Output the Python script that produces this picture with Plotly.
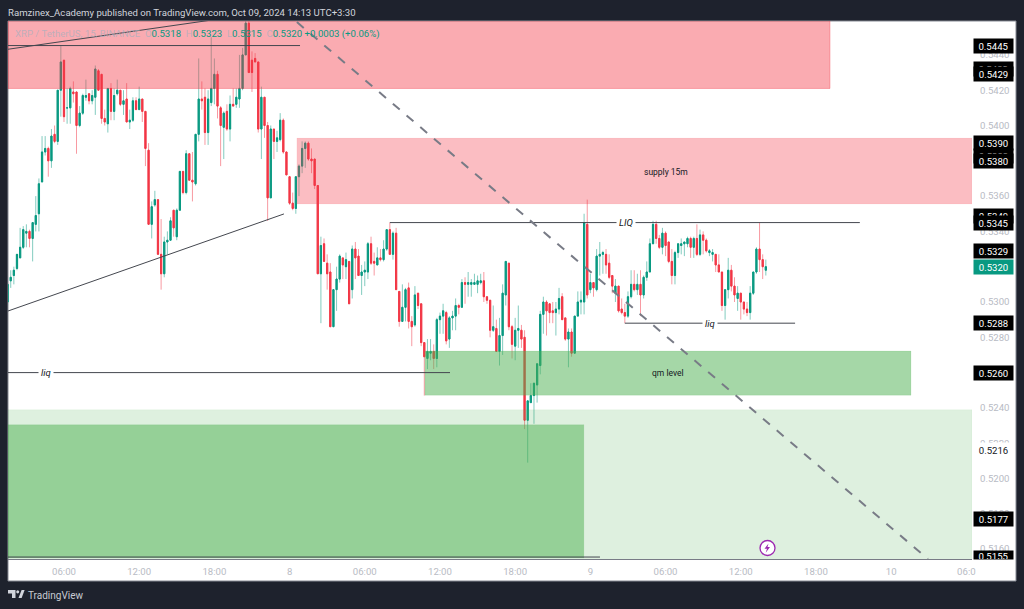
import pandas as pd
import plotly.graph_objects as go

FONT = "Roboto"
BG = "#1e222d"
UP = "#089981"
DOWN = "#f23645"

# XRP / TetherUS 15m bars, prices in units of 0.0001
open_e4 = [
    5300,5312,5315,5319,5325,5331,5339,5340,5336,5344, 5350,5368,5385,5387,5380,5395,5391,5420,5437,5410,
    5410,5419,5419,5400,5407,5416,5418,5414,5416,5431, 5429,5404,5401,5421,5408,5418,5420,5412,5415,5402,
    5403,5414,5409,5415,5408,5386,5344,5355,5358,5327, 5316,5334,5335,5352,5337,5352,5374,5362,5384,5369,
    5367,5395,5415,5416,5396,5413,5421,5429,5410,5399, 5408,5398,5412,5412,5415,5421,5440,5458,5437,5438,
    5436,5398,5416,5400,5359,5398,5391,5392,5403,5385, 5371,5356,5353,5371,5377,5387,5390,5381,5381,5366,
    5316,5333,5322,5317,5286,5307,5313,5325,5320,5323, 5307,5330,5326,5315,5317,5317,5333,5323,5321,5325,
    5324,5330,5341,5327,5339,5306,5289,5297,5308,5289, 5287,5305,5299,5277,5268,5271,5272,5268,5290,5292,
    5294,5279,5291,5292,5298,5297,5311,5310,5310,5310, 5310,5311,5312,5303,5301,5284,5285,5272,5281,5304,
    5322,5286,5275,5284,5284,5280,5233,5243,5247,5253, 5264,5293,5300,5299,5295,5294,5296,5303,5291,5279,
    5283,5271,5292,5300,5300,5344,5307,5311,5307,5326, 5327,5327,5322,5315,5305,5309,5296,5294,5292,5303,
    5310,5307,5310,5304,5314,5317,5333,5344,5336,5331, 5339,5334,5323,5315,5328,5332,5333,5333,5336,5331,
    5336,5327,5338,5335,5328,5327,5327,5321,5317,5298, 5307,5318,5309,5302,5305,5300,5296,5294,5305,5317,
    5330,5324,5318,
]
high_e4 = [
    5310,5318,5320,5327,5342,5343,5344,5341,5345,5360, 5370,5394,5394,5388,5398,5400,5420,5445,5437,5421,
    5422,5425,5419,5411,5418,5426,5418,5420,5434,5432, 5429,5409,5421,5424,5421,5426,5420,5420,5424,5409,
    5416,5416,5422,5415,5408,5390,5357,5363,5358,5347, 5337,5340,5348,5352,5353,5374,5374,5386,5384,5385,
    5395,5438,5425,5421,5420,5450,5438,5431,5411,5408, 5412,5417,5421,5421,5440,5444,5460,5460,5442,5441,
    5436,5422,5416,5402,5400,5398,5397,5407,5404,5385, 5371,5362,5371,5378,5391,5391,5391,5387,5381,5366,
    5337,5336,5327,5322,5307,5320,5327,5325,5328,5323, 5332,5334,5330,5321,5323,5334,5337,5328,5331,5330,
    5335,5341,5345,5340,5342,5306,5310,5308,5311,5292, 5309,5305,5299,5277,5279,5279,5276,5291,5294,5299,
    5295,5292,5295,5302,5299,5313,5314,5317,5313,5316, 5315,5316,5317,5303,5301,5298,5290,5291,5310,5323,
    5322,5287,5291,5298,5287,5284,5244,5254,5254,5265, 5295,5303,5301,5299,5300,5300,5308,5305,5291,5285,
    5285,5292,5306,5306,5350,5358,5316,5311,5330,5334, 5329,5330,5327,5315,5313,5309,5302,5299,5306,5318,
    5318,5316,5318,5315,5323,5336,5346,5346,5338,5342, 5340,5334,5330,5329,5333,5336,5334,5337,5337,5337,
    5344,5341,5340,5336,5330,5330,5327,5327,5317,5307, 5325,5321,5314,5309,5305,5300,5300,5309,5317,5331,
    5345,5327,5324,
]
low_e4 = [
    5298,5308,5310,5318,5325,5330,5331,5331,5323,5340, 5340,5368,5383,5371,5376,5390,5389,5405,5402,5401,
    5401,5413,5384,5399,5406,5414,5412,5412,5406,5420, 5401,5400,5396,5403,5403,5417,5411,5406,5402,5398,
    5402,5409,5409,5402,5377,5344,5336,5354,5327,5307, 5314,5327,5335,5337,5335,5352,5361,5361,5369,5357,
    5366,5391,5409,5389,5389,5411,5412,5404,5377,5381, 5397,5391,5411,5410,5410,5420,5440,5430,5419,5436,
    5396,5381,5393,5346,5359,5381,5385,5391,5384,5372, 5355,5352,5350,5360,5373,5376,5380,5373,5364,5316,
    5288,5323,5307,5286,5286,5295,5311,5313,5313,5299, 5302,5313,5315,5304,5309,5313,5321,5315,5321,5323,
    5323,5329,5327,5324,5307,5286,5289,5289,5285,5275, 5286,5296,5275,5247,5262,5267,5262,5263,5282,5282,
    5276,5274,5284,5284,5293,5297,5299,5303,5303,5310, 5305,5310,5300,5299,5280,5283,5272,5264,5270,5298,
    5284,5268,5267,5274,5274,5228,5209,5243,5231,5243, 5259,5282,5281,5288,5288,5281,5293,5290,5278,5263,
    5269,5271,5292,5293,5293,5302,5305,5303,5306,5315, 5316,5316,5313,5305,5300,5294,5293,5288,5291,5302,
    5306,5304,5292,5302,5312,5317,5333,5333,5330,5327, 5326,5322,5310,5310,5325,5327,5326,5331,5325,5325,
    5326,5326,5327,5328,5326,5323,5317,5317,5295,5290, 5302,5306,5300,5295,5290,5293,5292,5290,5304,5316,
    5317,5313,5315,
]
close_e4 = [
    5310,5314,5318,5327,5331,5341,5340,5336,5345,5349, 5367,5385,5387,5380,5394,5391,5420,5436,5405,5410,
    5421,5418,5400,5407,5417,5417,5414,5417,5432,5420, 5404,5402,5421,5408,5417,5420,5412,5414,5402,5403,
    5414,5409,5415,5408,5387,5344,5354,5358,5327,5316, 5334,5335,5346,5342,5352,5374,5362,5384,5369,5368,
    5395,5415,5414,5396,5415,5421,5429,5411,5400,5407, 5398,5412,5411,5416,5421,5440,5458,5430,5430,5436,
    5398,5416,5400,5359,5398,5391,5393,5403,5385,5372, 5356,5353,5371,5377,5387,5390,5381,5380,5366,5316,
    5332,5323,5316,5286,5307,5313,5326,5321,5324,5299, 5330,5325,5315,5317,5318,5333,5322,5322,5325,5324,
    5330,5341,5327,5339,5307,5289,5297,5307,5289,5286, 5304,5298,5277,5269,5272,5272,5268,5290,5292,5295,
    5278,5291,5292,5298,5297,5311,5310,5311,5311,5311, 5312,5312,5303,5301,5284,5286,5272,5281,5305,5323,
    5286,5276,5284,5285,5279,5233,5244,5247,5254,5265, 5293,5300,5295,5294,5294,5296,5302,5290,5279,5283,
    5271,5292,5300,5301,5345,5304,5311,5308,5326,5327, 5328,5321,5314,5309,5309,5295,5294,5292,5303,5310,
    5307,5310,5304,5314,5317,5333,5344,5336,5331,5339, 5332,5323,5315,5328,5333,5333,5334,5336,5331,5336,
    5327,5338,5335,5329,5329,5328,5321,5317,5298,5307, 5318,5309,5304,5305,5300,5296,5294,5305,5317,5330,
    5324,5320,5320,
]
LAST_BAR = "2024-10-09 14:00"

time_tick_vals = ["2024-10-07 06:00", "2024-10-07 12:00", "2024-10-07 18:00", "2024-10-08 00:00",
                  "2024-10-08 06:00", "2024-10-08 12:00", "2024-10-08 18:00", "2024-10-09 00:00",
                  "2024-10-09 06:00", "2024-10-09 12:00", "2024-10-09 18:00", "2024-10-10 00:00",
                  "2024-10-10 06:00"]
time_tick_text = ["06:00", "12:00", "18:00", "8", "06:00", "12:00", "18:00", "9",
                  "06:00", "12:00", "18:00", "10", "06:0"]
price_ticks = [0.5160, 0.5180, 0.5200, 0.5220, 0.5240, 0.5260, 0.5280, 0.5300, 0.5320, 0.5340,
               0.5360, 0.5380, 0.5400, 0.5420, 0.5440]

X_RANGE = ["2024-10-07 01:32:00", "2024-10-10 06:27:00"]
Y_RANGE = [0.515439, 0.545921]

# Plot box in window pixels, used only for the page furniture
PL, PR, PT, PB = 8, 972, 21, 559
W, H = 1024, 609
def px(x): return (x - PL) / (PR - PL)
def py(y): return (PB - y) / (PB - PT)

n = len(open_e4)
assert n == len(high_e4) == len(low_e4) == len(close_e4)
t = pd.date_range(end=LAST_BAR, periods=n, freq="15min")
o = [v / 1e4 for v in open_e4]
h = [v / 1e4 for v in high_e4]
l = [v / 1e4 for v in low_e4]
c = [v / 1e4 for v in close_e4]
body_top = [max(a, b) for a, b in zip(o, c)]
body_bot = [min(a, b) for a, b in zip(o, c)]

fig = go.Figure()
# wicks first (paler), then solid bodies on top
fig.add_trace(go.Candlestick(
    x=t, open=o, high=h, low=l, close=c, whiskerwidth=0, showlegend=False, hoverinfo="skip",
    increasing=dict(line=dict(color="rgba(8,153,129,0.5)", width=1), fillcolor="rgba(0,0,0,0)"),
    decreasing=dict(line=dict(color="rgba(242,54,69,0.5)", width=1), fillcolor="rgba(0,0,0,0)"),
))
fig.add_trace(go.Candlestick(
    x=t, open=o, high=body_top, low=body_bot, close=c, whiskerwidth=0, showlegend=False,
    increasing=dict(line=dict(color=UP, width=1), fillcolor=UP),
    decreasing=dict(line=dict(color=DOWN, width=1), fillcolor=DOWN),
))

shapes = []
# white chart panel (plot + both scales)
shapes.append(dict(type="rect", xref="paper", yref="paper", layer="below",
                   x0=px(8), x1=px(1016), y0=py(21), y1=py(581),
                   fillcolor="white", line=dict(color="#868993", width=1)))

def zone(t0, t1, p0, p1, fill, edge):
    shapes.append(dict(type="rect", xref="x", yref="y", layer="above", x0=t0, x1=t1, y0=p0, y1=p1,
                       fillcolor=fill, line=dict(color=edge, width=1)))

def seg(t0, p0, t1, p1, color="#44474f", width=1, dash="solid"):
    shapes.append(dict(type="line", xref="x", yref="y", layer="above", x0=t0, x1=t1, y0=p0, y1=p1,
                       line=dict(color=color, width=width, dash=dash)))

zone(X_RANGE[0], "2024-10-09 19:07", 0.5421, 0.5465, "rgba(242,54,69,0.42)", "rgba(242,54,69,0.35)")
zone("2024-10-08 00:35", X_RANGE[1], 0.53555, 0.53929, "rgba(242,54,69,0.33)", "rgba(242,54,69,0.04)")
zone("2024-10-08 10:48", "2024-10-10 01:35", 0.52472, 0.52722, "rgba(76,175,80,0.5)", "rgba(76,175,80,0.1)")
zone(X_RANGE[0], X_RANGE[1], 0.5150, 0.5239, "rgba(76,175,80,0.185)", "rgba(76,175,80,0.05)")
zone(X_RANGE[0], "2024-10-08 23:29", 0.5155, 0.52305, "rgba(76,175,80,0.5)", "rgba(76,175,80,0.1)")

seg(X_RANGE[0], 0.54432, "2024-10-07 19:29", 0.54615)
seg(X_RANGE[0], 0.54453, "2024-10-08 00:50", 0.54453)
seg(X_RANGE[0], 0.52949, "2024-10-07 23:33", 0.53499)
seg("2024-10-08 08:00", 0.5345, "2024-10-09 21:30", 0.5345)
seg("2024-10-09 02:45", 0.5288, "2024-10-09 16:20", 0.5288)
seg(X_RANGE[0], 0.5260, "2024-10-08 12:48", 0.5260)
seg(X_RANGE[0], 0.51555, "2024-10-09 00:46", 0.51555)
seg("2024-10-08 00:35", 0.54586, "2024-10-10 02:56", 0.51544, color="#787b86", width=2, dash="9px,9px")

# published-idea icon
shapes.append(dict(type="circle", xref="paper", yref="paper", layer="above",
                   x0=px(760), x1=px(775), y0=py(555.5), y1=py(540.5),
                   fillcolor="white", line=dict(color="#9c27b0", width=1.3)))
bolt = [(768.5, 543.5), (764.5, 548.8), (767, 548.8), (765.7, 552.7), (770, 547), (767.5, 547)]
shapes.append(dict(type="path", xref="paper", yref="paper", layer="above",
                   path="M " + " L ".join(f"{px(a):.5f} {py(b):.5f}" for a, b in bolt) + " Z",
                   fillcolor="#9c27b0", line=dict(width=0)))

# TradingView mark
for pts in ([(8, 590), (15.5, 590), (15.5, 598), (12, 598), (12, 593.4), (8, 593.4)],
            [(18.5, 598), (21.6, 590), (24.6, 590), (21.6, 598)]):
    shapes.append(dict(type="path", xref="paper", yref="paper", layer="above",
                       path="M " + " L ".join(f"{px(a):.5f} {py(b):.5f}" for a, b in pts) + " Z",
                       fillcolor="#d1d4dc", line=dict(width=0)))
shapes.append(dict(type="circle", xref="paper", yref="paper", layer="above",
                   x0=px(16.2), x1=px(19.2), y0=py(593.4), y1=py(590.2),
                   fillcolor="#d1d4dc", line=dict(width=0)))

ann = []
def note(text, tm, price, size=8.5, bg=None, italic=False):
    ann.append(dict(text=f"<i>{text}</i>" if italic else text, x=tm, y=price, xref="x", yref="y",
                    showarrow=False, font=dict(family=FONT, size=size, color="#131722"),
                    bgcolor=bg, borderpad=2))

note("supply 15m", "2024-10-09 06:00", 0.53735)
note("qm level", "2024-10-09 06:10", 0.5260)
note("LIQ", "2024-10-09 02:50", 0.5345, size=9.5, bg="white", italic=True)
note("liq", "2024-10-09 09:32", 0.5288, size=9.5, bg="white", italic=True)
note("liq", "2024-10-07 04:34", 0.5260, size=9.5, bg="white", italic=True)

def price_tag(text, price, fill="black", color="white", height=14, valign="middle", yanchor="middle"):
    ann.append(dict(text=text, x=px(993.3), y=price, xref="paper", yref="y", xanchor="center",
                    yanchor=yanchor, valign=valign, width=39, height=height, showarrow=False,
                    bgcolor=fill, font=dict(family=FONT, size=9.6, color=color), borderpad=0))

price_tag("0.5445", 0.5445)
price_tag("0.5432", 0.5432)
price_tag("0.5429", 0.5429)
price_tag("0.5383", 0.5383)
price_tag("0.5390", 0.5390)
price_tag("0.5380", 0.5380)
price_tag("0.5349", 0.5349)
price_tag("0.5345", 0.5345)
price_tag("0.5329", 0.5329)
price_tag("0.5320", 0.5320, fill=UP)
price_tag("0.5288", 0.5288)
price_tag("0.5260", 0.5260)
price_tag("0.5216", 0.5216, fill="white", color="#131722")
price_tag("0.5177", 0.5177)
price_tag("0.5155", 0.51595, height=8, valign="top", yanchor="top")

def page_text(text, x, y, size, color, xanchor="left"):
    ann.append(dict(text=text, x=px(x), y=py(y), xref="paper", yref="paper", xanchor=xanchor,
                    yanchor="middle", showarrow=False, font=dict(family=FONT, size=size, color=color)))

page_text("Ramzinex_Academy published on TradingView.com, Oct 09, 2024 14:13 UTC+3:30", 6, 12, 9.6, "#d1d4dc")
page_text("TradingView", 26, 595, 10, "#c8cbd3")

LBL = "rgba(170,175,190,0.75)"
def ohlc(letter, value):
    return f'<span style="color:{LBL}">{letter}</span><span style="color:{UP}">{value}</span>'
legend = (f'<span style="color:{LBL}">XRP / TetherUS, 15, BINANCE</span>&nbsp;&nbsp;'
          + "&nbsp;&nbsp;".join([ohlc("O", "0.5318"), ohlc("H", "0.5323"), ohlc("L", "0.5315"), ohlc("C", "0.5320")])
          + f'&nbsp;<span style="color:{UP}">+0.0003 (+0.06%)</span>')
page_text(legend, 12.5, 33.5, 9.6, UP)

fig.update_layout(
    width=W, height=H, autosize=False,
    margin=dict(l=PL, r=W - PR, t=PT, b=H - PB, pad=0),
    paper_bgcolor=BG, plot_bgcolor="white", showlegend=False, boxgap=0.45,
    font=dict(family=FONT),
    shapes=shapes, annotations=ann,
    xaxis=dict(type="date", range=X_RANGE, rangeslider=dict(visible=False), showgrid=False, zeroline=False,
               tickmode="array", tickvals=time_tick_vals, ticktext=time_tick_text, ticks="", tickangle=0,
               ticklabelstandoff=3, tickfont=dict(family=FONT, size=9.6, color="#b8bbc4"),
               showline=True, linecolor="#787b86", linewidth=1),
    yaxis=dict(side="right", range=Y_RANGE, showgrid=False, zeroline=False, tickmode="array",
               tickvals=price_ticks, ticktext=[f"{v:.4f}" for v in price_ticks], ticks="",
               ticklabelstandoff=7, tickfont=dict(family=FONT, size=9.6, color="#b8bbc4"), showline=False),
)

fig.write_html("out.html", config={"displayModeBar": False},
               post_script="document.body.style.margin='0';document.body.style.overflow='hidden';")
